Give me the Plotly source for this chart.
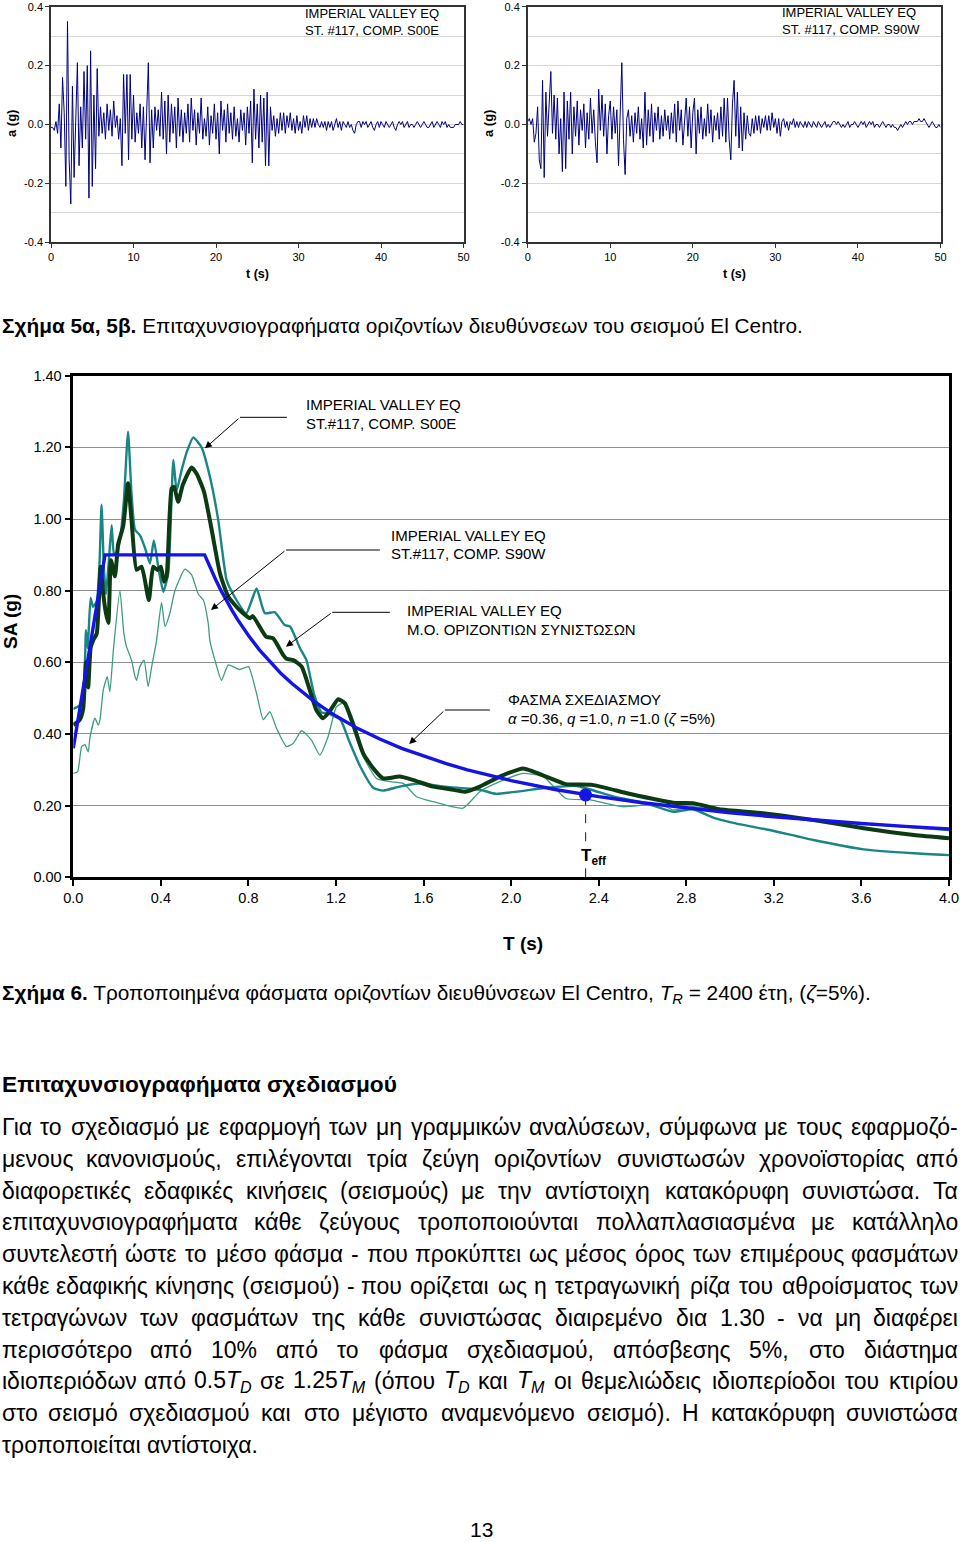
import re
import numpy as np
import plotly.graph_objects as go

FONT = "Liberation Sans, Arial, sans-serif"
W, H = 960, 1542


def px(x):
    return x / W


def py(y):
    return 1 - y / H


# ---------------- accelerograms (g), sampled every 0.2 s from 0 to 50 s ----------------
acc_s00e = [
    -0.01, -0.01, -0.02, 0.01, -0.03, 0.07, -0.08, 0.16, 0.04, -0.21,
    0.35, -0.12, -0.27, 0.13, -0.18, 0.05, 0.21, -0.14, 0.06, -0.08,
    0.18, -0.05, 0.20, -0.25, 0.25, -0.21, 0.10, -0.15, 0.19, -0.04,
    0.06, -0.03, 0.04, -0.05, 0.07, -0.02, 0.05, -0.04, 0.08, -0.01,
    0.03, -0.05, 0.02, -0.14, 0.17, -0.03, 0.17, -0.12, 0.17, -0.05,
    0.10, -0.06, 0.04, -0.03, 0.07, -0.08, 0.06, -0.12, 0.02, 0.21,
    -0.13, 0.05, -0.08, 0.06, -0.02, 0.05, -0.04, 0.11, -0.05, 0.08,
    -0.10, 0.10, -0.06, 0.07, -0.03, 0.06, -0.08, 0.09, -0.04, 0.05,
    -0.06, 0.04, -0.03, 0.07, -0.06, 0.09, -0.02, 0.05, -0.07, 0.04,
    -0.03, 0.09, -0.05, 0.02, -0.04, 0.06, -0.07, 0.03, -0.03, 0.07,
    -0.05, 0.04, -0.10, 0.08, -0.02, 0.05, -0.06, 0.07, -0.03, 0.04,
    -0.05, 0.06, -0.04, 0.02, -0.06, 0.05, -0.02, 0.04, -0.07, 0.06,
    -0.03, 0.08, -0.13, 0.12, -0.05, 0.07, -0.08, 0.10, -0.06, 0.09,
    -0.14, 0.11, -0.14, 0.06, -0.02, 0.03, -0.04, 0.02, -0.03, 0.04,
    -0.02, 0.04, -0.03, 0.03, -0.01, 0.04, -0.02, 0.02, -0.03, 0.03,
    -0.02, 0.01, -0.03, 0.03, -0.01, 0.03, -0.02, 0.02, -0.01, 0.02,
    -0.01, 0.02, 0.00, -0.01, 0.01, -0.01, 0.01, -0.02, 0.01, -0.01,
    0.01, -0.02, 0.00, 0.02, -0.01, 0.01, -0.02, 0.01, 0.00, -0.01,
    0.01, -0.01, 0.00, -0.02, -0.03, 0.00, 0.01, 0.01, -0.01, 0.01,
    0.00, 0.01, -0.01, 0.00, 0.01, -0.01, -0.02, 0.00, 0.01, -0.01,
    0.01, 0.00, -0.01, 0.01, 0.00, -0.01, 0.00, 0.01, -0.01, -0.02,
    0.00, 0.01, 0.00, 0.01, -0.01, 0.00, 0.01, -0.01, 0.00, 0.00,
    -0.01, 0.00, 0.01, 0.00, -0.01, 0.00, 0.01, 0.00, -0.01, -0.01,
    0.00, 0.01, -0.01, 0.00, 0.01, 0.00, -0.01, 0.01, 0.00, 0.01,
    -0.01, 0.00, -0.01, -0.01, -0.01, 0.00, 0.00, 0.00, 0.01, 0.00,
    0.00,
]

acc_s90w = [
    0.01, 0.02, 0.00, 0.02, -0.06, -0.03, 0.06, -0.12, -0.15, 0.15,
    -0.18, 0.11, -0.04, 0.10, 0.18, -0.03, 0.10, -0.05, 0.09, -0.10,
    0.02, -0.16, 0.11, -0.15, 0.08, -0.05, 0.11, -0.10, 0.06, -0.04,
    0.08, -0.07, 0.05, -0.02, 0.07, -0.08, 0.04, -0.05, 0.09, -0.03,
    0.05, -0.06, -0.13, 0.12, -0.02, 0.10, -0.04, 0.07, -0.10, 0.03,
    0.08, -0.05, 0.06, -0.03, 0.05, -0.14, 0.03, 0.21, -0.05, -0.17,
    0.02, 0.05, -0.04, 0.03, -0.06, 0.04, -0.03, 0.06, -0.05, 0.02,
    -0.08, 0.11, -0.07, 0.05, -0.04, 0.07, -0.06, 0.04, -0.02, 0.06,
    -0.05, 0.03, -0.04, 0.05, -0.02, 0.03, -0.05, 0.04, -0.03, 0.07,
    -0.06, 0.08, -0.02, 0.05, -0.07, 0.03, 0.09, -0.04, 0.06, -0.08,
    0.04, 0.09, -0.10, 0.05, -0.03, 0.06, -0.05, 0.02, -0.04, 0.07,
    -0.03, 0.05, -0.06, 0.03, -0.02, 0.04, -0.05, 0.06, -0.04, 0.09,
    -0.06, 0.09, -0.05, -0.12, 0.07, 0.15, -0.04, 0.11, -0.08, 0.06,
    -0.09, 0.04, -0.05, 0.03, -0.03, -0.04, 0.02, -0.03, 0.03, -0.02,
    0.03, -0.03, 0.02, -0.01, 0.03, -0.02, 0.03, -0.02, 0.04, -0.01,
    0.02, -0.03, 0.02, -0.04, 0.01, 0.02, -0.01, 0.01, -0.02, 0.01,
    0.00, 0.02, -0.01, 0.01, -0.01, 0.01, 0.00, -0.01, 0.01, -0.01,
    0.01, 0.00, -0.01, 0.01, 0.00, -0.01, 0.01, 0.00, -0.01, 0.00,
    0.01, -0.01, 0.00, -0.01, 0.00, 0.01, 0.01, 0.00, 0.01, 0.00,
    -0.01, 0.00, -0.01, 0.00, 0.01, -0.01, 0.00, 0.00, 0.01, 0.00,
    -0.01, 0.00, 0.01, 0.00, 0.01, -0.01, 0.00, 0.01, 0.00, 0.01,
    -0.01, 0.00, 0.00, -0.01, 0.00, 0.01, 0.00, -0.01, 0.00, 0.00,
    -0.01, 0.00, -0.01, -0.01, -0.02, -0.01, 0.00, -0.01, 0.00, 0.01,
    0.00, 0.01, 0.01, 0.00, 0.01, 0.01, 0.01, 0.02, 0.01, 0.01,
    0.02, 0.01, 0.00, -0.01, 0.00, 0.01, 0.00, -0.01, -0.01, 0.00,
    -0.01,
]
acc_dt = 0.2
t_s00e = [round(i * acc_dt, 2) for i in range(len(acc_s00e))]
t_s90w = [round(i * acc_dt, 2) for i in range(len(acc_s90w))]

acc_ticks = [-0.4, -0.2, 0.0, 0.2, 0.4]
acc_ticktext = ["-0.4", "-0.2", "0.0", "0.2", "0.4"]
t_ticks = [0, 10, 20, 30, 40, 50]

# ---------------- response spectra ----------------
T_s00e = [0.0, 0.03, 0.05, 0.058, 0.066, 0.079, 0.09, 0.107, 0.12, 0.129, 0.14, 0.149,
          0.162, 0.175, 0.186, 0.2, 0.213, 0.231, 0.25, 0.266, 0.282, 0.304, 0.327, 0.35,
          0.368, 0.388, 0.411, 0.434, 0.457, 0.472, 0.495, 0.52, 0.548, 0.586, 0.624,
          0.662, 0.70, 0.73, 0.79, 0.837, 0.875, 0.92, 0.966, 0.99, 1.035, 1.065, 1.10,
          1.134, 1.16, 1.22, 1.26, 1.31, 1.37, 1.415, 1.49, 1.58, 1.70, 1.86, 1.93, 2.16,
          2.30, 2.47, 2.62, 2.74, 2.83, 2.93, 3.03, 3.18, 3.38, 3.61, 3.84, 4.0]
SA_s00e = [0.47, 0.48, 0.55, 0.69, 0.64, 0.78, 0.755, 0.77, 0.88, 1.04, 0.86, 0.79,
           0.88, 0.983, 0.90, 0.91, 0.94, 1.05, 1.244, 1.07, 0.97, 0.955, 0.92, 0.876,
           0.94, 0.867, 0.797, 0.85, 1.165, 1.08, 1.137, 1.19, 1.228, 1.20, 1.118,
           0.997, 0.83, 0.79, 0.737, 0.806, 0.737, 0.74, 0.704, 0.70, 0.64, 0.606, 0.51,
           0.46, 0.458, 0.44, 0.38, 0.31, 0.25, 0.242, 0.253, 0.262, 0.253, 0.244, 0.233, 0.25,
           0.255, 0.225, 0.206, 0.183, 0.19, 0.165, 0.15, 0.132, 0.104, 0.078, 0.067, 0.062]

T_s90w = [0.0, 0.02, 0.038, 0.053, 0.068, 0.076, 0.099, 0.114, 0.122, 0.137, 0.155, 0.167,
          0.183, 0.213, 0.231, 0.243, 0.266, 0.282, 0.289, 0.304, 0.323, 0.342, 0.358,
          0.38, 0.403, 0.419, 0.441, 0.464, 0.51, 0.54, 0.571, 0.594, 0.616, 0.624, 0.647,
          0.677, 0.708, 0.76, 0.80, 0.837, 0.868, 0.898, 0.928, 0.974, 1.005, 1.043, 1.088,
          1.126, 1.164, 1.202, 1.233, 1.28, 1.324, 1.385, 1.446, 1.507, 1.568, 1.644, 1.78,
          1.857, 1.948, 2.055, 2.147, 2.25, 2.36, 2.51, 2.68, 2.74, 2.83, 3.03, 3.38, 3.68, 4.0]
SA_s90w = [0.29, 0.295, 0.365, 0.37, 0.35, 0.39, 0.444, 0.425, 0.44, 0.523, 0.56, 0.518,
           0.634, 0.80, 0.68, 0.644, 0.606, 0.56, 0.55, 0.588, 0.606, 0.532, 0.588,
           0.66, 0.767, 0.70, 0.737, 0.80, 0.86, 0.845, 0.79, 0.774, 0.71, 0.66, 0.606,
           0.55, 0.593, 0.58, 0.588, 0.513, 0.44, 0.462, 0.416, 0.365, 0.374, 0.409, 0.383,
           0.341, 0.393, 0.476, 0.486, 0.41, 0.337, 0.276, 0.267, 0.262, 0.225, 0.211, 0.193,
           0.239, 0.267, 0.29, 0.281, 0.22, 0.216, 0.197, 0.205, 0.188, 0.197, 0.179, 0.16, 0.146, 0.13]

T_mean = [0.0, 0.03, 0.045, 0.058, 0.068, 0.079, 0.091, 0.107, 0.125, 0.137, 0.149, 0.16,
          0.172, 0.19, 0.205, 0.228, 0.25, 0.266, 0.289, 0.312, 0.345, 0.365, 0.384, 0.40,
          0.414, 0.426, 0.449, 0.46, 0.479, 0.50, 0.54, 0.563, 0.597, 0.632, 0.67, 0.708,
          0.76, 0.807, 0.82, 0.88, 0.913, 0.959, 0.974, 1.005, 1.043, 1.08, 1.11, 1.14, 1.17,
          1.21, 1.24, 1.28, 1.324, 1.37, 1.415, 1.49, 1.55, 1.644, 1.72, 1.79, 1.857, 1.948,
          2.055, 2.16, 2.25, 2.37, 2.54, 2.74, 2.83, 2.95, 3.15, 3.38, 3.61, 3.84, 4.0]
SA_mean = [0.425, 0.44, 0.47, 0.60, 0.53, 0.64, 0.662, 0.68, 0.867, 0.79, 0.737, 0.71,
           0.885, 0.84, 0.93, 0.98, 1.10, 0.997, 0.858, 0.867, 0.774, 0.867, 0.858, 0.867,
           0.825, 0.84, 1.085, 1.09, 1.048, 1.095, 1.144, 1.127, 1.076, 0.97, 0.848, 0.783,
           0.746, 0.723, 0.729, 0.672, 0.667, 0.62, 0.61, 0.606, 0.588, 0.523, 0.467, 0.444, 0.462,
           0.497, 0.486, 0.425, 0.346, 0.304, 0.276, 0.281, 0.272, 0.253, 0.246, 0.239, 0.253, 0.281,
           0.304, 0.281, 0.26, 0.258, 0.233, 0.208, 0.207, 0.19, 0.179, 0.16, 0.137, 0.118, 0.109]

T_design = [0.0, 0.145, 0.60, 0.625, 0.65, 0.675, 0.70, 0.725, 0.75, 0.775, 0.80, 0.85, 0.90,
            0.95, 1.0, 1.05, 1.1, 1.15, 1.2, 1.3, 1.4, 1.5, 1.6, 1.7, 1.8, 1.9,
            2.0, 2.2, 2.4, 2.6, 2.8, 3.0, 3.2, 3.4, 3.6, 3.8, 4.0]
SA_design = [0.36, 0.90, 0.90, 0.864, 0.831, 0.80, 0.771, 0.745, 0.72, 0.697, 0.675, 0.635, 0.60,
             0.568, 0.54, 0.514, 0.491, 0.47, 0.45, 0.415, 0.386, 0.36, 0.338, 0.318, 0.30, 0.284,
             0.27, 0.245, 0.225, 0.208, 0.193, 0.18, 0.169, 0.159, 0.15, 0.142, 0.135]

T_eff = 2.34
SA_eff = 0.23

T_ticks = [0.0, 0.4, 0.8, 1.2, 1.6, 2.0, 2.4, 2.8, 3.2, 3.6, 4.0]
SA_ticks = [0.0, 0.2, 0.4, 0.6, 0.8, 1.0, 1.2, 1.4]

# ---------------- text ----------------
caption5_bold = "Σχήμα 5α, 5β."
caption5_rest = " Επιταχυνσιογραφήματα οριζοντίων διευθύνσεων του σεισμού El Centro."
caption6 = ("<b>Σχήμα 6.</b> Τροποποιημένα φάσματα οριζοντίων διευθύνσεων El Centro, "
            "<i>T</i><sub><i>R</i></sub> = 2400 έτη, (<i>ζ</i>=5%).")
heading = "Επιταχυνσιογραφήματα σχεδιασμού"
para_lines = [
    "Για το σχεδιασμό με εφαρμογή των μη γραμμικών αναλύσεων, σύμφωνα με τους εφαρμοζό-",
    "μενους κανονισμούς, επιλέγονται τρία ζεύγη οριζοντίων συνιστωσών χρονοϊστορίας από",
    "διαφορετικές εδαφικές κινήσεις (σεισμούς) με την αντίστοιχη κατακόρυφη συνιστώσα. Τα",
    "επιταχυνσιογραφήματα κάθε ζεύγους τροποποιούνται πολλαπλασιασμένα με κατάλληλο",
    "συντελεστή ώστε το μέσο φάσμα - που προκύπτει ως μέσος όρος των επιμέρους φασμάτων",
    "κάθε εδαφικής κίνησης (σεισμού) - που ορίζεται ως η τετραγωνική ρίζα του αθροίσματος των",
    "τετραγώνων των φασμάτων της κάθε συνιστώσας διαιρεμένο δια 1.30 - να μη διαφέρει",
    "περισσότερο από 10% από το φάσμα σχεδιασμού, απόσβεσης 5%, στο διάστημα",
    "ιδιοπεριόδων από 0.5<i>T</i><sub><i>D</i></sub> σε 1.25<i>T</i><sub><i>M</i></sub> (όπου "
    "<i>T</i><sub><i>D</i></sub> και <i>T</i><sub><i>M</i></sub> οι θεμελιώδεις ιδιοπερίοδοι του κτιρίου",
    "στο σεισμό σχεδιασμού και στο μέγιστο αναμενόμενο σεισμό). Η κατακόρυφη συνιστώσα",
    "τροποποιείται αντίστοιχα.",
]
page_number = "13"

# approximate advance widths (em) for Arial-metric fonts
CW = {' ': .278, '.': .278, ',': .278, '-': .333, '(': .333, ')': .333, '%': .889, '=': .584}
for ch in '0123456789':
    CW[ch] = .556
CW.update({'a': .556, 'b': .556, 'c': .5, 'd': .556, 'e': .556, 'f': .278, 'g': .556,
           'h': .556, 'i': .222, 'l': .222, 'm': .833, 'n': .556, 'o': .556, 'r': .333,
           's': .5, 't': .278, 'u': .556, 'T': .611, 'D': .722, 'M': .833, 'E': .667, 'C': .722})
CW.update({'α': .58, 'ά': .58, 'β': .57, 'γ': .50, 'δ': .56, 'ε': .45, 'έ': .45, 'ζ': .44,
           'η': .56, 'ή': .56, 'θ': .56, 'ι': .24, 'ί': .24, 'ϊ': .24, 'ΐ': .24, 'κ': .50,
           'λ': .50, 'μ': .58, 'ν': .50, 'ξ': .45, 'ο': .56, 'ό': .56, 'π': .64, 'ρ': .57,
           'σ': .60, 'ς': .48, 'τ': .44, 'υ': .55, 'ύ': .55, 'φ': .65, 'χ': .50, 'ψ': .71,
           'ω': .76, 'ώ': .76, 'Γ': .55, 'Η': .72, 'Σ': .62, 'Τ': .61, 'Ε': .67})


def est_width(html, size):
    w = 0.0
    sub = False
    for tok in re.split(r'(<[^>]+>)', html):
        if tok.startswith('<'):
            if tok == '<sub>':
                sub = True
            elif tok == '</sub>':
                sub = False
            continue
        for ch in tok:
            w += CW.get(ch, 0.55) * (0.7 if sub else 1.0)
    return w * size


fig = go.Figure()

# accelerograms
fig.add_trace(go.Scatter(x=t_s00e, y=acc_s00e, xaxis='x', yaxis='y', mode='lines',
                         line=dict(color='#000080', width=1), showlegend=False, hoverinfo='skip'))
fig.add_trace(go.Scatter(x=t_s90w, y=acc_s90w, xaxis='x2', yaxis='y2', mode='lines',
                         line=dict(color='#000080', width=1), showlegend=False, hoverinfo='skip'))

# spectra
fig.add_trace(go.Scatter(x=T_s90w, y=SA_s90w, xaxis='x3', yaxis='y3', mode='lines',
                         line=dict(color='#3f9c83', width=1.3, shape='spline', smoothing=0.5),
                         showlegend=False, hoverinfo='skip'))
fig.add_trace(go.Scatter(x=T_s00e, y=SA_s00e, xaxis='x3', yaxis='y3', mode='lines',
                         line=dict(color='#1a8585', width=2.4, shape='spline', smoothing=0.5),
                         showlegend=False, hoverinfo='skip'))
fig.add_trace(go.Scatter(x=T_mean, y=SA_mean, xaxis='x3', yaxis='y3', mode='lines',
                         line=dict(color='#0c3a12', width=4, shape='spline', smoothing=0.5),
                         showlegend=False, hoverinfo='skip'))
fig.add_trace(go.Scatter(x=T_design, y=SA_design, xaxis='x3', yaxis='y3', mode='lines',
                         line=dict(color='#1414e6', width=3.4),
                         showlegend=False, hoverinfo='skip'))
fig.add_trace(go.Scatter(x=[T_eff], y=[SA_eff], xaxis='x3', yaxis='y3', mode='markers',
                         marker=dict(color='#1414e6', size=13), showlegend=False, hoverinfo='skip'))

acc_x_common = dict(range=[0, 50], tickvals=t_ticks, ticks='outside', ticklen=4, tickcolor='#333',
                    showline=True, linecolor='#333', linewidth=1.5, mirror=True, showgrid=False,
                    zeroline=False, automargin=False,
                    tickfont=dict(family=FONT, size=11, color='black'))
acc_y_common = dict(range=[-0.4, 0.4], tickvals=acc_ticks, ticktext=acc_ticktext, ticks='outside',
                    ticklen=4, tickcolor='#333', showline=True, linecolor='#333', linewidth=1.5,
                    mirror=True, showgrid=True, gridcolor='#d6d6d6', gridwidth=1, zeroline=False,
                    automargin=False,
                    minor=dict(tickmode='linear', tick0=0, dtick=0.1, showgrid=True,
                               gridcolor='#d6d6d6', gridwidth=1, ticks=''),
                    tickfont=dict(family=FONT, size=11, color='black'))

fig.update_layout(
    width=W, height=H, autosize=False,
    margin=dict(l=0, r=0, t=0, b=0, pad=0, autoexpand=False),
    paper_bgcolor='white', plot_bgcolor='white',
    font=dict(family=FONT, color='black'),
    showlegend=False,
    xaxis=dict(domain=[px(51), px(463.5)], anchor='y', **acc_x_common),
    yaxis=dict(domain=[py(242.3), py(6.7)], anchor='x', **acc_y_common),
    xaxis2=dict(domain=[px(527.7), px(940.5)], anchor='y2', **acc_x_common),
    yaxis2=dict(domain=[py(242.3), py(6.7)], anchor='x2', **acc_y_common),
    xaxis3=dict(domain=[px(73.3), px(949)], anchor='y3', range=[0, 4], tickvals=T_ticks,
                ticktext=[f"{v:.1f}" for v in T_ticks], ticks='outside', ticklen=6, tickwidth=2,
                tickcolor='black', showline=True, linecolor='black', linewidth=2.5, mirror=True,
                showgrid=False, zeroline=False, automargin=False,
                tickfont=dict(family=FONT, size=14.5, color='black')),
    yaxis3=dict(domain=[py(877.3), py(375.7)], anchor='x3', range=[0, 1.4], tickvals=SA_ticks,
                ticktext=[f"{v:.2f}" for v in SA_ticks], ticks='outside', ticklen=6, tickwidth=2,
                tickcolor='black', showline=True, linecolor='black', linewidth=2.5, mirror=True,
                showgrid=True, gridcolor='#8e8e8e', gridwidth=1.2, zeroline=False, automargin=False,
                tickfont=dict(family=FONT, size=14.5, color='black')),
)

ann = []
shapes = []


def text(x, y, s, size, xanchor='left', bold=False, angle=0):
    ann.append(dict(xref='paper', yref='paper', x=px(x), y=py(y), text=(f"<b>{s}</b>" if bold else s),
                    showarrow=False, xanchor=xanchor, yanchor='middle', textangle=angle,
                    font=dict(family=FONT, size=size, color='black')))


# accelerogram labels
text(303, 14, "IMPERIAL VALLEY EQ", 13)
text(303, 30, "ST. #117, COMP. S00E", 13)
text(780, 13, "IMPERIAL VALLEY EQ", 13)
text(780, 29, "ST. #117, COMP. S90W", 13)
text(257, 274, "t (s)", 12.5, xanchor='center', bold=True)
text(734, 274, "t (s)", 12.5, xanchor='center', bold=True)
text(11, 124, "a (g)", 13, xanchor='center', bold=True, angle=-90)
text(488, 124, "a (g)", 13, xanchor='center', bold=True, angle=-90)

# spectrum labels
text(10, 622, "SA (g)", 19, xanchor='center', bold=True, angle=-90)
text(523, 943, "T (s)", 19, xanchor='center', bold=True)
text(304, 405, "IMPERIAL VALLEY EQ", 15)
text(304, 423, "ST.#117, COMP. S00E", 15)
text(389, 535, "IMPERIAL VALLEY EQ", 15)
text(389, 553, "ST.#117, COMP. S90W", 15)
text(405, 611, "IMPERIAL VALLEY EQ", 15)
text(405, 629, "M.O. ΟΡΙΖΟΝΤΙΩΝ ΣΥΝΙΣΤΩΣΩΝ", 15)
text(506, 700, "ΦΑΣΜΑ ΣΧΕΔΙΑΣΜΟΥ", 15)
text(506, 718, "<i>α</i> =0.36, <i>q</i> =1.0, <i>n</i> =1.0 (<i>ζ</i> =5%)", 15)
text(579, 857, "T<sub>eff</sub>", 17, bold=True)


def tp(x, y):
    return (x - 73.3) / 219.0, (877.3 - y) / 358.3


leaders = [
    ((287, 417.3), (240, 417.3), (205, 448.3)),
    ((380, 550), (286, 550), (211, 610)),
    ((390, 612.3), (332.3, 612.3), (286, 646.7)),
    ((490, 710), (445, 710), (409.3, 744)),
]
for tail, corner, head in leaders:
    t0, s0 = tp(*tail)
    t1, s1 = tp(*corner)
    t2, s2 = tp(*head)
    shapes.append(dict(type='line', xref='x3', yref='y3', x0=t0, y0=s0, x1=t1, y1=s1,
                       line=dict(color='black', width=1)))
    ann.append(dict(xref='x3', yref='y3', axref='x3', ayref='y3', x=t2, y=s2, ax=t1, ay=s1,
                    text='', showarrow=True, arrowhead=2, arrowsize=1.4, arrowwidth=1,
                    arrowcolor='black'))

shapes.append(dict(type='line', xref='x3', yref='y3', x0=T_eff, y0=0, x1=T_eff, y1=SA_eff,
                   line=dict(color='#33336a', width=1.2, dash='dash')))

# page text
ann.append(dict(xref='paper', yref='paper', x=0, y=py(325),
                text=f"<b>{caption5_bold}</b>{caption5_rest}", showarrow=False,
                xanchor='left', yanchor='middle', font=dict(family=FONT, size=20.8, color='black')))
ann.append(dict(xref='paper', yref='paper', x=0, y=py(994), text=caption6, showarrow=False,
                xanchor='left', yanchor='middle', font=dict(family=FONT, size=20.8, color='black')))
text(0, 1084, heading, 22.7, bold=True)
text(481, 1529, page_number, 21, xanchor='center')

PARA_SIZE = 23
PARA_Y0 = 1127
PARA_DY = 31.8
for i, line in enumerate(para_lines):
    y = PARA_Y0 + i * PARA_DY
    if i == len(para_lines) - 1:
        text(0, y, line, PARA_SIZE)
        continue
    words = line.split()
    ws = [est_width(w, PARA_SIZE) for w in words]
    gap = (W - sum(ws)) / (len(words) - 1)
    x = 0.0
    for j, (wd, wv) in enumerate(zip(words, ws)):
        if j == 0:
            text(0, y, wd, PARA_SIZE, xanchor='left')
        elif j == len(words) - 1:
            text(W, y, wd, PARA_SIZE, xanchor='right')
        else:
            text(x + wv / 2, y, wd, PARA_SIZE, xanchor='center')
        x += wv + gap

fig.update_layout(annotations=ann, shapes=shapes)
fig.write_html(
    "out.html",
    config={"displayModeBar": False},
    post_script="document.body.style.margin='0px';document.body.style.padding='0px';"
                "document.body.style.overflow='hidden';",
)
